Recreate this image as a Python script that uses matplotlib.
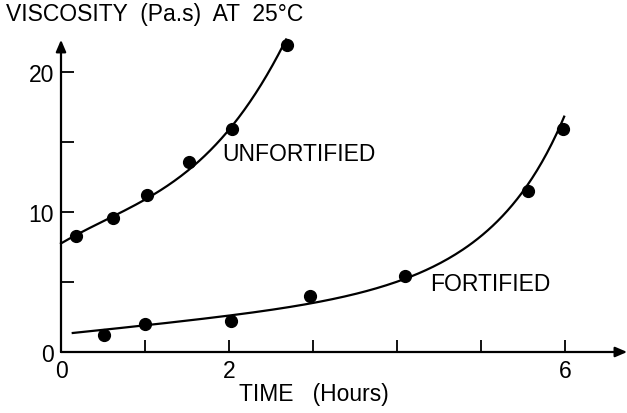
import numpy as np
import matplotlib
matplotlib.use("Agg")
import matplotlib.pyplot as plt

# Measured points
unf_x = [0.18, 0.62, 1.02, 1.52, 2.04, 2.69]
unf_y = [8.3, 9.6, 11.2, 13.6, 15.9, 21.9]
fort_x = [0.51, 1.0, 2.02, 2.96, 4.1, 5.56, 5.98]
fort_y = [1.2, 2.0, 2.2, 4.0, 5.4, 11.5, 15.9]

# Traced smooth curves
unf_cx = [0.0, 0.5, 1.0, 1.5, 2.04, 2.4, 2.68]
unf_cy = [7.85, 9.1, 10.9, 13.3, 15.8, 19.3, 22.4]
fort_cx = [0.14, 1.0, 2.0, 2.85, 4.1, 5.0, 5.5, 5.99]
fort_cy = [1.36, 1.9, 2.6, 3.36, 5.2, 8.4, 11.3, 16.9]

xticks = [0, 1, 2, 3, 4, 5, 6]
xticklabels = ["0", "", "2", "", "", "", "6"]
yticks = [0, 5, 10, 15, 20]
yticklabels = ["0", "", "10", "", "20"]

FONT = "Liberation Sans"
plt.rcParams['font.family'] = [FONT, 'DejaVu Sans']

W, H = 627, 414
fig = plt.figure(figsize=(W / 100, H / 100), dpi=100)
x0px, y0px = 61, 353
pxx, pxy = 84.0, 14.0
xmax, ymax = 6.8, 23.0
ax = fig.add_axes([x0px / W, (H - y0px) / H, xmax * pxx / W, ymax * pxy / H])
ax.set_xlim(0, xmax)
ax.set_ylim(0, ymax)
for s in ax.spines.values():
    s.set_visible(False)

# axes with arrows
ax.annotate("", xy=(6.74, 0), xytext=(0, 0), xycoords="data",
            arrowprops=dict(arrowstyle="-|>,head_length=0.7,head_width=0.3", lw=1.6, color="black",
                            shrinkA=0, shrinkB=0), annotation_clip=False)
ax.annotate("", xy=(0, 22.3), xytext=(0, 0), xycoords="data",
            arrowprops=dict(arrowstyle="-|>,head_length=0.7,head_width=0.3", lw=1.6, color="black",
                            shrinkA=0, shrinkB=0), annotation_clip=False)

ax.set_xticks(xticks)
ax.set_xticklabels(xticklabels)
ax.set_yticks(yticks)
ax.set_yticklabels(yticklabels)
ax.tick_params(direction="in", length=9, width=1.3, labelsize=16.5, colors="black")
ax.tick_params(axis="x", pad=5)
ax.tick_params(axis="y", pad=5)

# curves
def smooth(cx, cy, log=False):
    xs = np.linspace(cx[0], cx[-1], 200)
    if log:
        c = np.polyfit(cx, np.log(cy), 3)
        return xs, np.exp(np.polyval(c, xs))
    c = np.polyfit(cx, cy, 3)
    return xs, np.polyval(c, xs)

xs, ys = smooth(unf_cx, unf_cy)
ax.plot(xs, ys, color="black", lw=1.6, clip_on=False)
xs, ys = smooth(fort_cx, fort_cy, log=True)
ax.plot(xs, ys, color="black", lw=1.6, clip_on=False)

ax.plot(unf_x, unf_y, "o", color="black", ms=8.5, clip_on=False)
ax.plot(fort_x, fort_y, "o", color="black", ms=8.5, clip_on=False)

ax.text(1.92, 14.2, "UNFORTIFIED", fontsize=16.5, va="center", ha="left")
ax.text(4.39, 4.86, "FORTIFIED", fontsize=16.5, va="center", ha="left")

fig.text(6 / W, 1 - 15 / H, "VISCOSITY  (Pa.s)  AT  25°C", fontsize=16.5, va="center", ha="left")
fig.text(239 / W, 1 - 395 / H, "TIME   (Hours)", fontsize=16.5, va="center", ha="left")

fig.savefig("out.png", dpi=100)
